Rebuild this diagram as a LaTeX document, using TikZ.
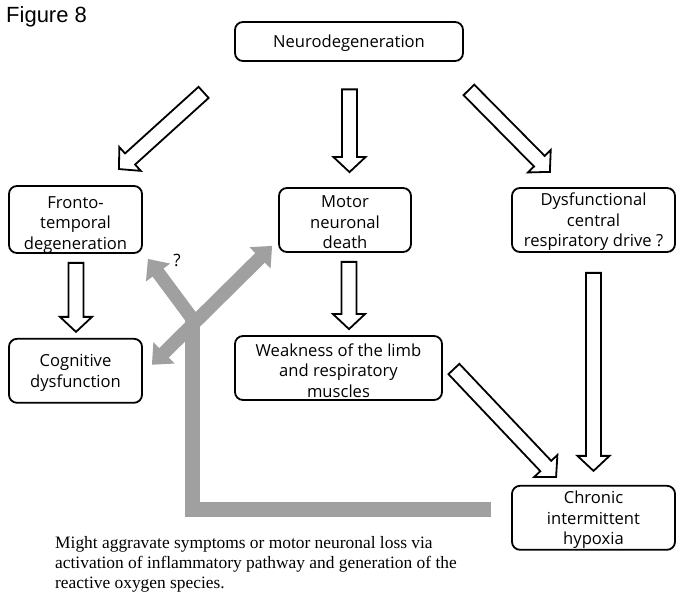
\documentclass[tikz,border=0pt]{standalone}
\usepackage{fontspec}
\setmainfont{Open Sans}
\newfontfamily\figfont{Liberation Sans}
\newfontfamily\notefont{Liberation Serif}
\usepackage{tikz}
\usetikzlibrary{arrows.meta, positioning, calc}
\definecolor{pathgray}{RGB}{160,160,160}
\newcommand{\topgap}[1][16.6pt]{\rule{0pt}{#1}}
\newcommand{\blockarrow}[2]{%
  \draw[hollow] let \p1=#1, \p2=#2,
    \n1={atan2(\y2-\y1,\x2-\x1)}, \n2={veclen(\x2-\x1,\y2-\y1)} in
    [shift={(\p1)}, rotate=\n1]
    (0pt,-7.5pt) -- ({\n2-15pt},-7.5pt) -- ({\n2-15pt},-16pt) -- (\n2,0pt)
    -- ({\n2-15pt},16pt) -- ({\n2-15pt},7.5pt) -- (0pt,7.5pt) -- cycle;}
\tikzset{
    box/.style={draw, line width=1.8pt, rounded corners=8pt, align=center,
      inner sep=0pt, font=\fontsize{16.6}{20.5}\selectfont},
    hollow/.style={draw, line width=1.8pt, fill=white, line join=miter},
    graytip/.tip={Triangle[length=17pt, width=29pt]},
    grayline/.style={draw=pathgray, line width=15pt},
    grayarrow/.style={draw=pathgray, line width=13.5pt, -graytip},
}

\begin{document}
\begin{tikzpicture}[x=1pt, y=-1pt]
    \tikzset{node distance=84pt}
    \useasboundingbox (0,0) rectangle (683,601);

    \node[anchor=base west, inner sep=0pt, font=\figfont\fontsize{22}{26}\selectfont] (figlabel) at (6,23) {Figure 8};

    \node[box, minimum width=228pt, minimum height=39pt] (neuro) at (349,41.5) {\topgap Neurodegeneration};
    \node[box, minimum width=133pt, minimum height=65pt] (fronto) at (75.5,219.5) {\topgap[22pt]Fronto-\\temporal\\degeneration};
    \node[box, minimum width=132pt, minimum height=64pt] (motor) at (345,220) {\topgap Motor\\neuronal\\death};
    \node[box, minimum width=163pt, minimum height=64pt] (dysf) at (593.5,220) {\topgap Dysfunctional\\central\\respiratory drive ?};
    \node[box, minimum width=133pt, minimum height=64pt, below=of fronto] (cogn) {\topgap Cognitive\\dysfunction};
    \node[box, minimum width=207pt, minimum height=64pt] (weak) at (338.5,368) {\topgap[18pt]Weakness of the limb\\and respiratory\\muscles};
    \node[box, minimum width=163pt, minimum height=64pt, below=232pt of dysf] (chron) {\topgap Chronic\\intermittent\\hypoxia};

    \blockarrow{($(neuro.south west)+(-30.5,30.5)$)}{($(fronto.north east)+(-24,-16)$)}
    \blockarrow{($(neuro.south)+(0.5,27.5)$)}{($(motor.north)+(4.5,-15)$)}
    \blockarrow{($(neuro.south east)+(5,28)$)}{($(dysf.north west)+(39,-15)$)}
    \blockarrow{($(fronto.south)+(0.5,9)$)}{($(cogn.north)+(0.5,-6)$)}
    \blockarrow{($(motor.south)+(4,9)$)}{($(weak.north)+(10.5,-6)$)}
    \blockarrow{($(dysf.south)+(0,20)$)}{($(chron.north)+(0,-14)$)}
    \blockarrow{($(weak.east)+(11,1)$)}{($(chron.north west)+(45,-8)$)}

    \coordinate (fork) at (192.5,313);
    \draw[grayline] ($(chron.west)+(-20,-8)$) -| (fork);
    \draw[grayarrow] ($(fork)+(0,6)$) -- ($(fronto.south east)+(5,5)$);
    \draw[grayarrow, graytip-graytip] ($(cogn.east)+(9,-6)$) -- ($(motor.south west)+(-6,-7)$);
    \node[font=\fontsize{17}{20}\selectfont] (qmark) at (177,260) {?};

    \node[anchor=north west, align=left, inner sep=0pt, font=\notefont\fontsize{17.4}{20}\selectfont] (note) at (55,536) {Might aggravate symptoms or motor neuronal loss via\\activation of inflammatory pathway and generation of the\\reactive oxygen species.};
\end{tikzpicture}
\end{document}
